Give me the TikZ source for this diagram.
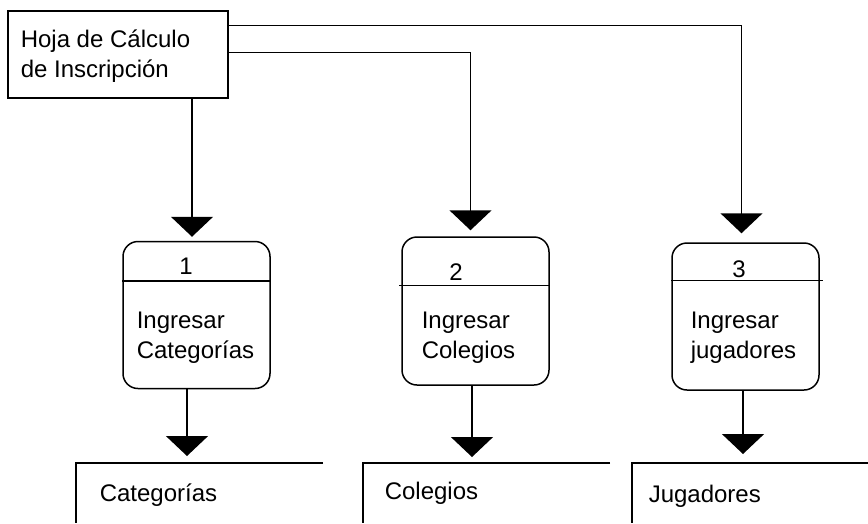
\documentclass[tikz,border=0pt]{standalone}
\usepackage{fontspec}
\setmainfont{Liberation Sans}
\usetikzlibrary{arrows.meta}
\begin{document}
\begin{tikzpicture}[x=1pt, y=-1pt, line width=1.5pt,
  flow/.style={-{Triangle[length=20pt,width=42pt]}},
  srcbox/.style={draw, rectangle, minimum width=220pt, minimum height=87pt, inner sep=0pt},
  procbox/.style={draw, rounded corners=15pt, minimum width=147pt, minimum height=147pt, inner sep=0pt},
  lbl/.style={anchor=base west, inner sep=0pt, font=\fontsize{24}{30}\selectfont},
  num/.style={anchor=base, inner sep=0pt, font=\fontsize{24}{30}\selectfont}]
\useasboundingbox (0,0) rectangle (868,523);

% external entity
\node[srcbox] (src) at (118,54.5) {};
\node[lbl] (src1) at (20,47) {Hoja de Cálculo};
\node[lbl] (src2) at (20,77) {de Inscripción};

% processes
\node[procbox] (p1) at (196.5,315) {};
\node[procbox, minimum height=148pt] (p2) at (475.5,311) {};
\node[procbox] (p3) at (745.5,316.5) {};

\draw ([yshift=-40pt]p1.north west) -- ([yshift=-40pt]p1.north east);
\draw ([xshift=-2pt,yshift=-49pt]p2.north west) -- ([yshift=-49pt]p2.north east);
\draw ([yshift=-38pt]p3.north west) -- ([xshift=3pt,yshift=-38pt]p3.north east);

\node[num] (n1) at (186,274) {1};
\node[num] (n2) at (456,280) {2};
\node[num] (n3) at (739,277) {3};

\node[lbl] (p1a) at (136,328) {Ingresar};
\node[lbl] (p1b) at (136,358) {Categorías};
\node[lbl] (p2a) at (421,328) {Ingresar};
\node[lbl] (p2b) at (421,358) {Colegios};
\node[lbl] (p3a) at (690,328) {Ingresar};
\node[lbl] (p3b) at (690,358) {jugadores};

% data stores (open boxes)
\coordinate (s1) at (76,463);
\coordinate (s1e) at (323,463);
\coordinate (s1b) at (76,523);
\coordinate (s2) at (363,463);
\coordinate (s2e) at (610,463);
\coordinate (s2b) at (363,523);
\coordinate (s3) at (632,463);
\coordinate (s3e) at (868,463);
\coordinate (s3b) at (632,523);
\draw (s1e) -- (s1) -- (s1b);
\draw (s2e) -- (s2) -- (s2b);
\draw (s3e) -- (s3) -- (s3b);
\node[lbl] (d1) at (99,501) {Categorías};
\node[lbl] (d2) at (384,499) {Colegios};
\node[lbl] (d3) at (648,502) {Jugadores};

% flows from the spreadsheet
\coordinate (o1) at ([yshift=-15pt]src.north east);
\coordinate (o2) at ([yshift=-42pt]src.north east);
\coordinate (t1) at ([xshift=-4.5pt,yshift=4pt]p1.north);
\coordinate (t2) at ([xshift=-5pt,yshift=6pt]p2.north);
\coordinate (t3) at ([xshift=-4pt,yshift=9pt]p3.north);
\draw[flow] (src.south -| t1) -- (t1);
\draw[flow] (o2) -| (t2);
\draw[flow] (o1) -| (t3);

% flows into the stores
\coordinate (u1) at ([xshift=111pt,yshift=7pt]s1);
\coordinate (u2) at ([xshift=109pt,yshift=6pt]s2);
\coordinate (u3) at ([xshift=111pt,yshift=9pt]s3);
\draw[flow] (p1.south -| u1) -- (u1);
\draw[flow] (p2.south -| u2) -- (u2);
\draw[flow] (p3.south -| u3) -- (u3);
\end{tikzpicture}
\end{document}
